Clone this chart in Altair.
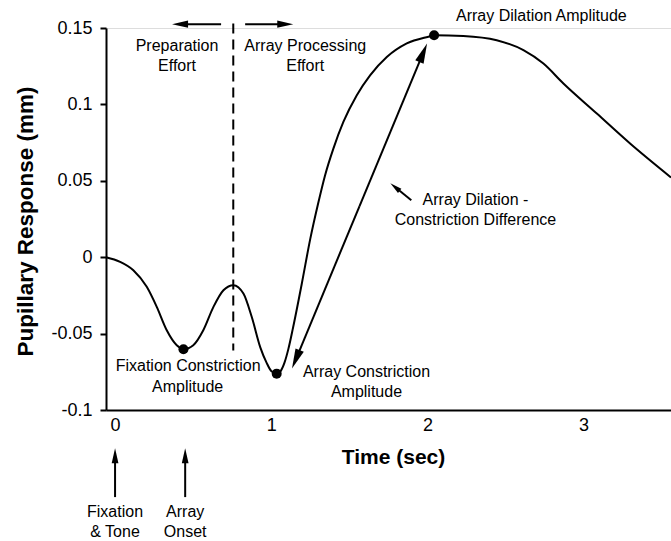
import math
import altair as alt
import pandas as pd

# ---------------- data ----------------
time_sec = [-0.058, 0.032, 0.117, 0.203, 0.267, 0.331, 0.395, 0.438, 0.501, 0.565,
            0.63, 0.694, 0.758, 0.822, 0.875, 0.93, 0.97, 1.0, 1.035, 1.06,
            1.085, 1.11, 1.14, 1.196, 1.25, 1.30, 1.345, 1.398, 1.462, 1.548,
            1.633, 1.74, 1.868, 2.017, 2.043, 2.23, 2.444, 2.615, 2.743, 2.871,
            3.085, 3.298, 3.56]
response_mm = [0.0, -0.003, -0.0085, -0.0194, -0.0325, -0.0478, -0.0576, -0.0602, -0.0576, -0.0478,
               -0.0325, -0.0216, -0.0183, -0.0238, -0.039, -0.059, -0.069, -0.0745, -0.0762, -0.0745,
               -0.069, -0.060, -0.046, -0.0172, 0.012, 0.035, 0.0537, 0.0711, 0.0885, 0.106,
               0.119, 0.131, 0.1399, 0.1446, 0.1453, 0.1448, 0.142, 0.1355, 0.1267, 0.1137,
               0.094, 0.0744, 0.0522]

dot_t = [0.438, 1.035, 2.043]
dot_v = [-0.0602, -0.0762, 0.1453]

label_text = ["Preparation", "Effort", "Array Processing", "Effort",
              "Array Dilation Amplitude", "Array Dilation -", "Constriction Difference",
              "Fixation Constriction", "Amplitude", "Array Constriction", "Amplitude",
              "Fixation", "& Tone", "Array", "Onset"]
label_t = [0.397, 0.397, 1.218, 1.218, 2.73, 2.308, 2.308,
           0.468, 0.465, 1.61, 1.61, 0.0, 0.0, 0.449, 0.449]
label_v = [0.138, 0.125, 0.138, 0.125, 0.1577, 0.0373, 0.0242,
           -0.0713, -0.0851, -0.0753, -0.0884, -0.1669, -0.180, -0.1669, -0.180]

# arrows: tail -> tip (double arrow drawn as two halves from its middle)
mid_t = (1.133 + 1.998) / 2
mid_v = (-0.0729 + 0.1399) / 2
arrow_tail_t = [0.679, 0.833, 1.897, 0.0, 0.449, mid_t, mid_t]
arrow_tail_v = [0.1525, 0.1525, 0.0373, -0.157, -0.157, mid_v, mid_v]
arrow_tip_t = [0.365, 1.141, 1.763, 0.0, 0.449, 1.998, 1.133]
arrow_tip_v = [0.1525, 0.1525, 0.0484, -0.125, -0.125, 0.1399, -0.0729]

divider_t = [0.757]
divider_top = [0.153]
divider_bottom = [-0.061]

y_ticks = [-0.1, -0.05, 0, 0.05, 0.1, 0.15]
x_ticks = [0, 1, 2, 3]

# ---------------- styles ----------------
FONT = "Liberation Sans"
W, H = 565, 382
X_DOM = [-0.058, 3.56]
Y_DOM = [-0.1, 0.15]
SX = W / (X_DOM[1] - X_DOM[0])
SY = H / (Y_DOM[1] - Y_DOM[0])
head_len = [16, 16, 12, 15, 15, 20, 20]
HEAD_PATH = "M0,0L0.45,2L-0.45,2Z"

rows = []
for i in range(len(arrow_tip_t)):
    dx = (arrow_tip_t[i] - arrow_tail_t[i]) * SX
    dy = (arrow_tip_v[i] - arrow_tail_v[i]) * SY
    d = math.hypot(dx, dy)
    ux, uy = dx / d, dy / d
    back = head_len[i] * 0.6
    ang = math.degrees(math.atan2(dx, dy)) % 360
    rows.append({
        "t0": arrow_tail_t[i], "v0": arrow_tail_v[i],
        "t1": arrow_tip_t[i] - ux * back / SX, "v1": arrow_tip_v[i] - uy * back / SY,
        "tt": arrow_tip_t[i], "tv": arrow_tip_v[i],
        "ang": ang, "size": head_len[i] ** 2,
    })
arrows = pd.DataFrame(rows)

curve = pd.DataFrame({"t": time_sec, "v": response_mm})
dots = pd.DataFrame({"t": dot_t, "v": dot_v})
labels = pd.DataFrame({"t": label_t, "v": label_v, "text": label_text})
divider = pd.DataFrame({"t": divider_t, "v0": divider_top, "v1": divider_bottom})

xs = alt.Scale(domain=X_DOM, nice=False, zero=False, clamp=False)
ys = alt.Scale(domain=Y_DOM, nice=False, zero=False, clamp=False)

x_axis = alt.Axis(values=x_ticks, ticks=False, labelPadding=6, grid=False,
                  labelFontSize=18, labelFont=FONT, labelColor="black", labelAngle=0,
                  labelExpr="'' + datum.value",
                  domainColor="black", domainWidth=2,
                  title="Time (sec)", titleFont=FONT, titleFontSize=21, titleFontWeight="bold",
                  titleColor="black", titleX=287, titleY=47, titleAlign="center",
                  titleBaseline="middle")
y_axis = alt.Axis(values=y_ticks, tickSize=6, tickWidth=2, tickColor="black",
                  labelPadding=8, grid=False, labelFontSize=18, labelFont=FONT,
                  labelColor="black", labelExpr="'' + datum.value",
                  domainColor="black", domainWidth=2,
                  title="Pupillary Response (mm)", titleFont=FONT, titleFontSize=22.5,
                  titleFontWeight="bold", titleColor="black", titleAngle=-90,
                  titleX=-81, titleY=193, titleAlign="center", titleBaseline="middle")

line = alt.Chart(curve).mark_line(color="black", strokeWidth=2, interpolate="monotone").encode(
    x=alt.X("t:Q", scale=xs, axis=x_axis),
    y=alt.Y("v:Q", scale=ys, axis=y_axis),
)

dot_layer = alt.Chart(dots).mark_point(filled=True, color="black", opacity=1, size=100).encode(
    x=alt.X("t:Q", scale=xs), y=alt.Y("v:Q", scale=ys))

div_layer = alt.Chart(divider).mark_rule(color="black", strokeWidth=2, strokeDash=[10, 6]).encode(
    x=alt.X("t:Q", scale=xs), y=alt.Y("v0:Q", scale=ys), y2="v1:Q")

shafts = alt.Chart(arrows).mark_rule(color="black", strokeWidth=2).encode(
    x=alt.X("t0:Q", scale=xs), y=alt.Y("v0:Q", scale=ys), x2="t1:Q", y2="v1:Q")

heads = alt.Chart(arrows).mark_point(shape=HEAD_PATH, filled=True, color="black",
                                     opacity=1, strokeWidth=0).encode(
    x=alt.X("tt:Q", scale=xs), y=alt.Y("tv:Q", scale=ys),
    angle=alt.Angle("ang:Q", scale=None),
    size=alt.Size("size:Q", scale=None))

text_layer = alt.Chart(labels).mark_text(font=FONT, fontSize=16, color="black",
                                         align="center", baseline="middle").encode(
    x=alt.X("t:Q", scale=xs), y=alt.Y("v:Q", scale=ys), text="text:N")

chart = alt.layer(line, div_layer, shafts, heads, dot_layer, text_layer).properties(
    width=W, height=H,
    padding={"left": 106, "top": 28, "right": 0, "bottom": 131},
    autosize=alt.AutoSizeParams(type="none"),
).configure_view(stroke=None).configure(background="white")

chart.save("out.html", embed_options={"renderer": "svg", "actions": False})
